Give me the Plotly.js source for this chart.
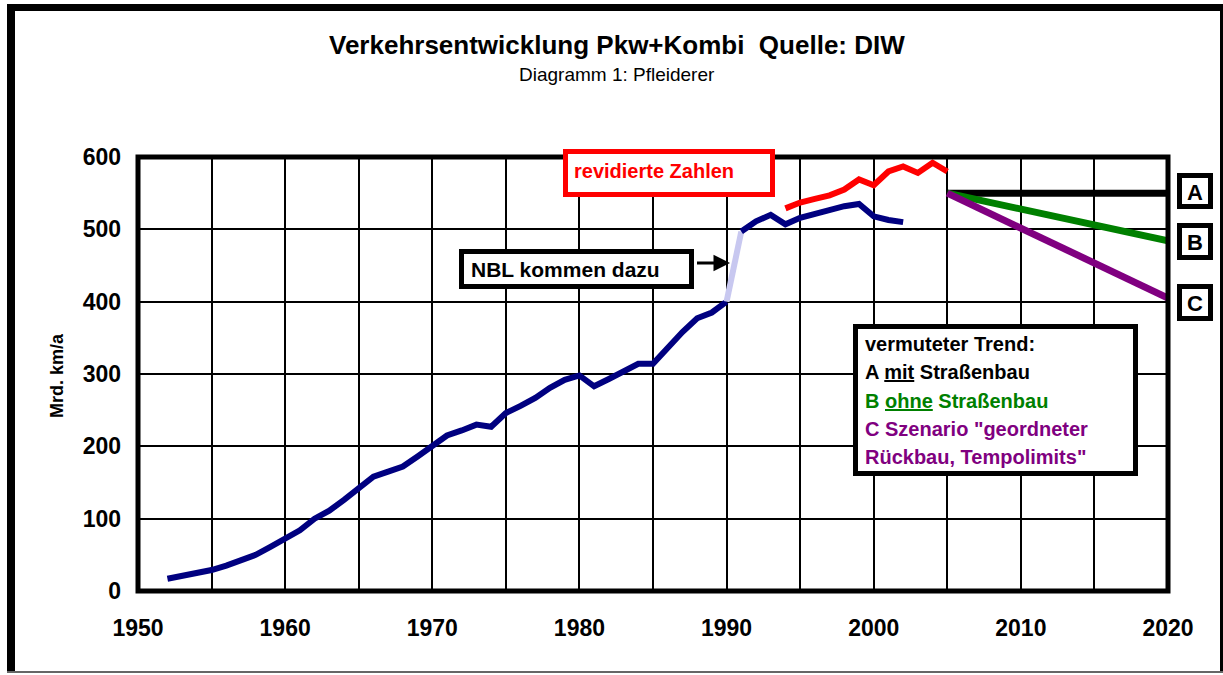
<!DOCTYPE html>
<html>
<head>
<meta charset="utf-8">
<script src="https://cdn.plot.ly/plotly-3.0.1.min.js"></script>
<style>
html,body{margin:0;padding:0;background:#fff;}
#chart{width:1223px;height:675px;}
</style>
</head>
<body>
<div id="chart"></div>
<script>
// ---- data ----
const blueYears1 = [1952,1953,1954,1955,1956,1957,1958,1959,1960,1961,1962,1963,1964,1965,1966,1967,1968,1969,1970,1971,1972,1973,1974,1975,1976,1977,1978,1979,1980,1981,1982,1983,1984,1985,1986,1987,1988,1989,1990];
const blueVals1  = [17,21,24,29,35,42,50,61,72,84,100,111,126,142,158,165,172,186,201,215,222,230,227,246,256,267,281,292,298,283,293,304,314,314,337,358,377,385,400];
const nblYears = [1990,1991];
const nblVals  = [400,497];
const blueYears2 = [1991,1992,1993,1994,1995,1996,1997,1998,1999,2000,2001,2002];
const blueVals2  = [497,511,520,507,516,522,527,532,535,518,513,510];
const revYears = [1994,1995,1996,1997,1998,1999,2000,2001,2002,2003,2004,2005];
const revVals  = [529,537,542,547,555,569,561,580,587,578,592,580];
const trendYears = [2005,2020];
const trendA = [550,550];
const trendB = [550,484];
const trendC = [550,405];
const xTickVals = [1950,1960,1970,1980,1990,2000,2010,2020];
const yTickVals = [0,100,200,300,400,500,600];

const FONT = 'Liberation Sans, Arial, Helvetica, sans-serif';

// pixel -> paper helpers (layout geometry only)
const L = 138, R = 1168, T = 157, B = 591;
const px = x => (x - L) / (R - L);
const py = y => (B - y) / (B - T);

function line(xs, ys, color, width) {
  return {x: xs, y: ys, type: 'scatter', mode: 'lines',
          line: {color: color, width: width}, hoverinfo: 'skip', showlegend: false};
}

const traces = [
  line(blueYears1, blueVals1, '#000080', 6),
  line(nblYears, nblVals, '#c8c8f0', 6),
  line(blueYears2, blueVals2, '#000080', 6),
  line(revYears, revVals, '#ff0000', 6),
  line(trendYears, trendA, '#000000', 7),
  line(trendYears, trendB, '#008000', 7),
  line(trendYears, trendC, '#800080', 7)
];

function rect(x0, y0, x1, y1, color, w, fill) {
  return {type: 'rect', xref: 'paper', yref: 'paper',
          x0: px(x0), x1: px(x1), y0: py(y1), y1: py(y0),
          line: {color: color, width: w}, fillcolor: fill || 'rgba(0,0,0,0)', layer: 'above'};
}
function solid(x0, y0, x1, y1, color) {
  return {type: 'rect', xref: 'paper', yref: 'paper',
          x0: px(x0), x1: px(x1), y0: py(y1), y1: py(y0),
          line: {width: 0}, fillcolor: color, layer: 'above'};
}

const shapes = [
  rect(L, T, R, B, '#000', 5),
  rect(565.5, 151.5, 772.5, 194.5, '#ff0000', 5, '#fff'),
  rect(461.5, 251.5, 691.5, 286.5, '#000', 5, '#fff'),
  rect(855.5, 326.5, 1135.5, 473.5, '#000', 5, '#fff'),
  rect(1179.5, 175.5, 1210.5, 206.5, '#000', 5, '#fff'),
  rect(1179.5, 225.5, 1210.5, 257.5, '#000', 5, '#fff'),
  rect(1179.5, 286.5, 1210.5, 318.5, '#000', 5, '#fff'),
  solid(7, 4, 15, 673, '#000'),
  solid(7, 4, 1223, 11, '#000'),
  solid(1220, 4, 1223, 673, '#000'),
  solid(7, 671, 1223, 673, '#666')
];

function txt(x, y, text, size, color, xanchor, extra) {
  return Object.assign({xref: 'paper', yref: 'paper', x: px(x), y: py(y), text: text,
    showarrow: false, xanchor: xanchor || 'center', yanchor: 'middle',
    font: {family: FONT, size: size, color: color || '#000', weight: 'bold'}}, extra || {});
}

const annotations = [
  txt(617, 45, 'Verkehrsentwicklung Pkw+Kombi  Quelle: DIW', 26, '#000'),
  Object.assign(txt(617, 74, 'Diagramm 1: Pfleiderer', 19, '#000'), {font: {family: FONT, size: 19, color: '#000', weight: 'normal'}}),
  txt(57, 376, 'Mrd. km/a', 18, '#000', 'center', {textangle: -90}),
  txt(572, 171, 'revidierte Zahlen', 20, '#ff0000', 'left'),
  txt(469, 269, 'NBL kommen dazu', 21, '#000', 'left'),
  {xref: 'paper', yref: 'paper', x: px(730), y: py(263), ax: -36, ay: 0, axref: 'pixel', ayref: 'pixel',
   text: ' ', showarrow: true, arrowhead: 2, arrowsize: 1.1, arrowwidth: 3, arrowcolor: '#000', standoff: 0, startstandoff: 0},
  txt(863, 344, 'vermuteter Trend:', 20, '#000', 'left'),
  txt(863, 372, 'A <u>mit</u> Straßenbau', 20, '#000', 'left'),
  txt(863, 401, 'B <u>ohne</u> Straßenbau', 20, '#008000', 'left'),
  txt(863, 429, 'C Szenario "geordneter', 20, '#800080', 'left'),
  txt(863, 457, 'Rückbau, Tempolimits"', 20, '#800080', 'left'),
  txt(1195, 192, 'A', 22, '#000'),
  txt(1195, 242, 'B', 22, '#000'),
  txt(1195, 303, 'C', 22, '#000')
];

const layout = {
  width: 1223, height: 675,
  margin: {l: L, r: 1223 - R, t: T, b: 675 - B, pad: 0},
  paper_bgcolor: '#fff', plot_bgcolor: '#fff',
  showlegend: false,
  xaxis: {range: [1950, 2020], tickvals: xTickVals, showgrid: true, gridcolor: '#000', gridwidth: 2,
          zeroline: false, showline: false, ticks: '', ticklabelstandoff: 21,
          minor: {dtick: 5, showgrid: true, gridcolor: '#000', gridwidth: 2},
          tickfont: {family: FONT, size: 23, color: '#000', weight: 'bold'}, fixedrange: true},
  yaxis: {range: [0, 600], tickvals: yTickVals, showgrid: true, gridcolor: '#000', gridwidth: 2,
          zeroline: false, showline: false, ticks: '', ticklabelstandoff: 16,
          tickfont: {family: FONT, size: 23, color: '#000', weight: 'bold'}, fixedrange: true},
  shapes: shapes,
  annotations: annotations
};

Plotly.newPlot('chart', traces, layout, {staticPlot: true, displayModeBar: false});
</script>
</body>
</html>
